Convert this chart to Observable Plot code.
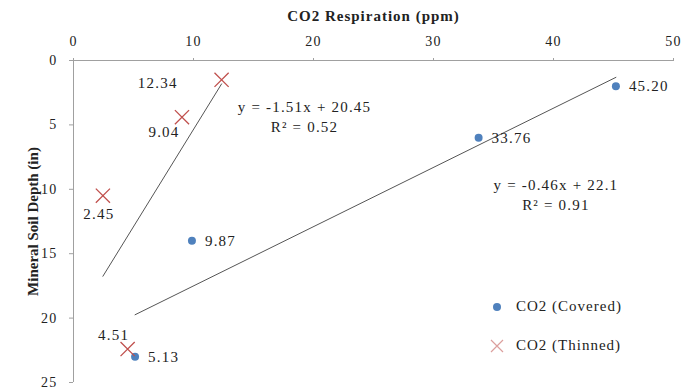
<!DOCTYPE html>
<html><head><meta charset="utf-8">
<script src="https://cdn.jsdelivr.net/npm/d3@7"></script>
<script src="https://cdn.jsdelivr.net/npm/@observablehq/plot@0.6"></script>
<style>
body{margin:0;background:#fff;font-family:"Liberation Serif",serif;}
#wrap{position:relative;width:686px;height:392px;}
.leg{position:absolute;left:489px;font:15px "Liberation Serif",serif;letter-spacing:1px;color:#222;display:flex;align-items:center;}
.leg svg{margin-right:11px;}
</style></head><body><div id="wrap"></div>
<script>
const seriesNames = ["CO2 (Covered)", "CO2 (Thinned)"];
const coveredCO2 = [45.20, 33.76, 9.87, 5.13];
const coveredDepth = [2, 6, 14, 23];
const thinnedCO2 = [12.34, 9.04, 2.45, 4.51];
const thinnedDepth = [1.5, 4.4, 10.5, 22.4];
const slopes = [-0.46, -1.51];
const intercepts = [22.1, 20.45];
const r2 = [0.91, 0.52];
const xTicks = [0, 10, 20, 30, 40, 50];
const yTicks = [0, 5, 10, 15, 20, 25];
// equation label anchor (data coords) per series
const eqX = [40.2, 19.25];
const eqY = [10.3, 4.27];

const colors = ["#4F81BD", "#C0504D"];
const covered = coveredCO2.map((x, i) => ({x, y: coveredDepth[i], label: x.toFixed(2)}));
const thinned = thinnedCO2.map((x, i) => ({x, y: thinnedDepth[i], label: x.toFixed(2)}));
const trend = (pts, k) => {
  const [a, b] = d3.extent(pts, d => d.x);
  return [a, b].map(x => ({x, y: slopes[k] * x + intercepts[k]}));
};
// thinned label placements
const thinPlace = [
  {textAnchor: "end", dx: -44, dy: 3},
  {textAnchor: "middle", dx: -18, dy: 15},
  {textAnchor: "middle", dx: -4, dy: 18},
  {textAnchor: "middle", dx: -14, dy: -14}
];

const font = "Liberation Serif";
const chart = Plot.plot({
  width: 686, height: 392,
  marginLeft: 73, marginRight: 13, marginTop: 60, marginBottom: 10,
  style: {fontFamily: font, fontSize: "14px", color: "#222", background: "#fff", letterSpacing: "1.2px"},
  x: {domain: [0, 50]},
  y: {domain: [0, 25], reverse: true},
  marks: [
    Plot.ruleY([0], {stroke: "#a0a0a0"}),
    Plot.ruleX([0], {stroke: "#a0a0a0"}),
    Plot.axisX({anchor: "top", ticks: xTicks, tickSize: 3, tickPadding: 12, stroke: "#a0a0a0", fill: "#222", fontSize: 14,
      label: "CO2 Respiration (ppm)", labelAnchor: "center", labelArrow: "none", labelOffset: 50}),
    Plot.axisY({ticks: yTicks, tickSize: 4, tickPadding: 12, stroke: "#a0a0a0", fill: "#222", fontSize: 14,
      label: "Mineral Soil Depth (in)", labelAnchor: "center", labelArrow: "none", labelOffset: 46}),
    Plot.line(trend(covered, 0), {x: "x", y: "y", stroke: "#555", strokeWidth: 1}),
    Plot.line(trend(thinned, 1), {x: "x", y: "y", stroke: "#555", strokeWidth: 1}),
    Plot.dot(covered, {x: "x", y: "y", r: 4, fill: colors[0], stroke: "none"}),
    Plot.dot(thinned, {x: "x", y: "y", r: 6.5, symbol: "times", stroke: colors[1], strokeWidth: 1.3}),
    Plot.text(covered, {x: "x", y: "y", text: "label", textAnchor: "start", dx: 13, fontSize: 15, fill: "#222"}),
    ...thinned.map((d, i) => Plot.text([d], {x: "x", y: "y", text: "label", fontSize: 15, fill: "#222", ...thinPlace[i]})),
    Plot.text([0, 1], {x: i => eqX[i], y: i => eqY[i], fontSize: 15, fill: "#222", lineHeight: 1.33,
      text: i => `y = ${slopes[i]}x + ${intercepts[i]}\nR² = ${r2[i]}`})
  ]
});
const sel = d3.select(chart);
sel.selectAll('g[aria-label$="axis label"]').attr("font-weight", "bold").attr("font-size", 15);
sel.selectAll('g[aria-label="x-axis label"]').style("letter-spacing", "1px");
sel.selectAll('g[aria-label="y-axis label"]').style("letter-spacing", "0px");
const wrap = document.getElementById("wrap");
wrap.appendChild(chart);
// legend
const legTops = [298, 337];
seriesNames.forEach((name, i) => {
  const div = document.createElement("div");
  div.className = "leg";
  div.style.top = legTops[i] + "px";
  const sym = i === 0
    ? `<svg width="16" height="16"><circle cx="8" cy="8" r="4" fill="${colors[0]}"/></svg>`
    : `<svg width="16" height="16"><path d="M2,2L14,14M14,2L2,14" stroke="${colors[1]}" stroke-opacity="0.55" stroke-width="1.2"/></svg>`;
  div.innerHTML = sym + `<span>${name}</span>`;
  wrap.appendChild(div);
});
</script></body></html>
